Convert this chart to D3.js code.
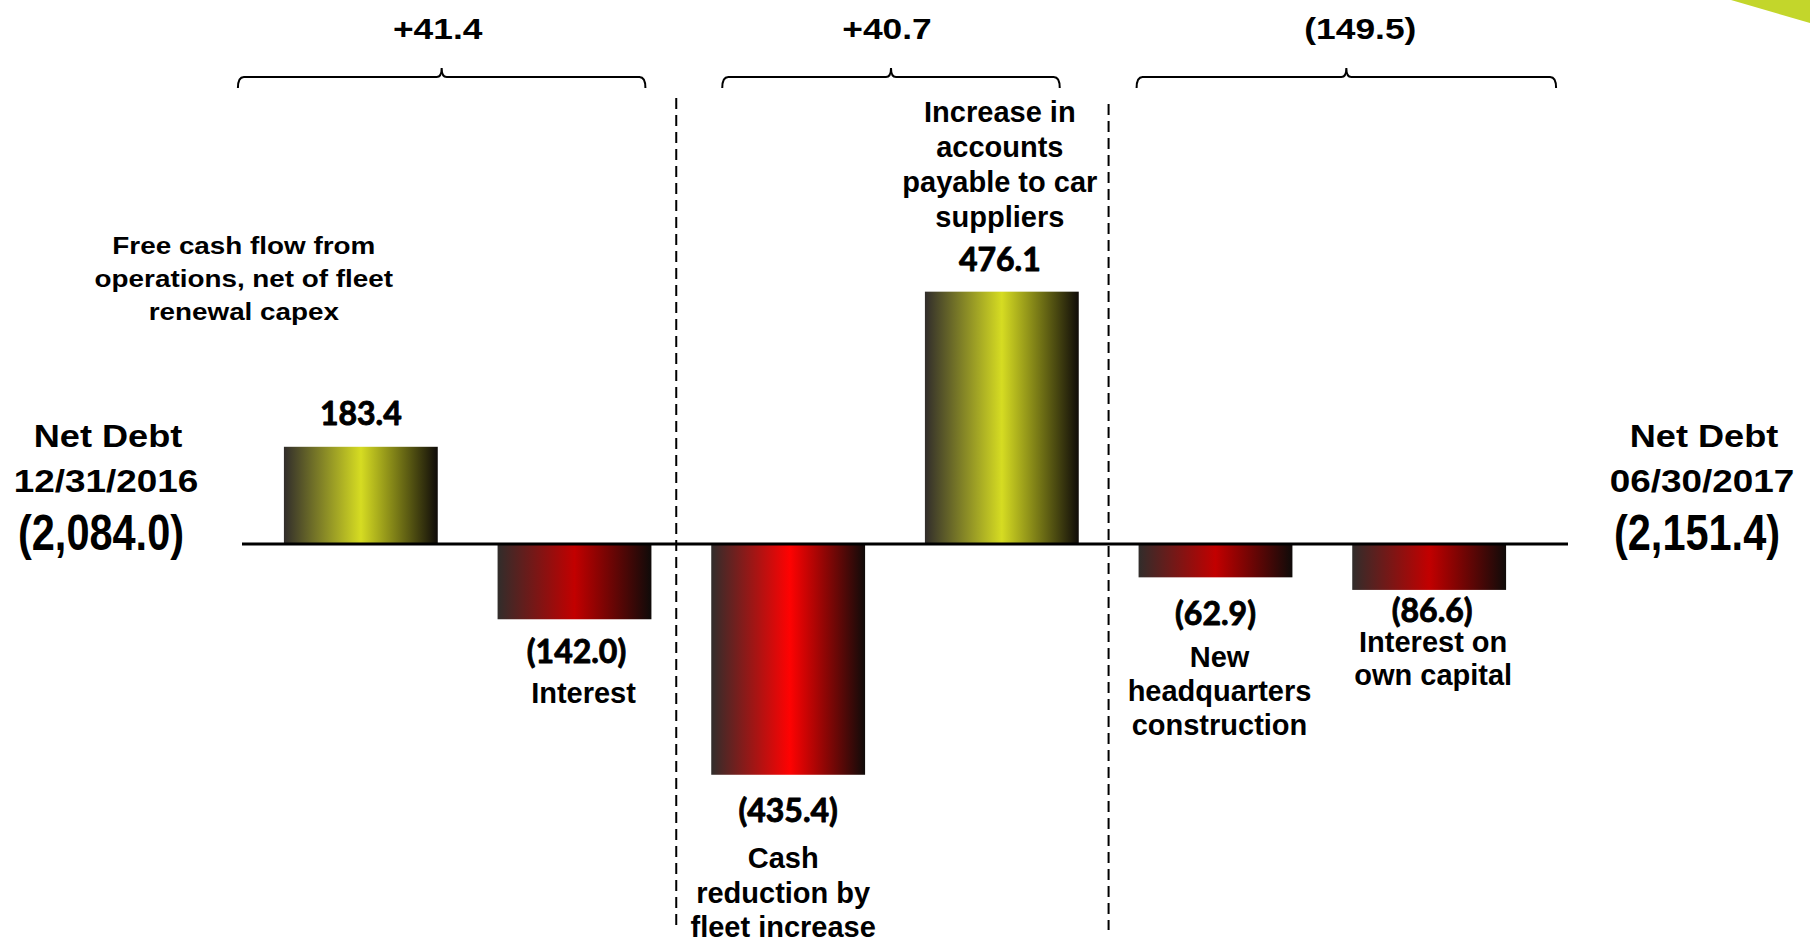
<!DOCTYPE html>
<html>
<head>
<meta charset="utf-8">
<script src="https://cdn.jsdelivr.net/npm/d3@7"></script>
<style>
  html, body { margin: 0; padding: 0; background: #ffffff; }
  svg { display: block; }
</style>
</head>
<body>
<div id="chart"></div>
<script>
// ---------------- DATA ----------------
const categories = [
  ["Free cash flow from", "operations, net of fleet", "renewal capex"],
  ["Interest"],
  ["Cash", "reduction by", "fleet increase"],
  ["Increase in", "accounts", "payable to car", "suppliers"],
  ["New", "headquarters", "construction"],
  ["Interest on", "own capital"]
];
const values = [183.4, -142.0, -435.4, 476.1, -62.9, -86.6];
const groupLabels = ["+41.4", "+40.7", "(149.5)"];
const groupMembers = [[0, 1], [2, 3], [4, 5]];
const startLabel = ["Net Debt", "12/31/2016", "(2,084.0)"];
const endLabel = ["Net Debt", "06/30/2017", "(2,151.4)"];

// ---------------- LAYOUT / STYLE ----------------
const W = 1810, H = 942;
const ARIAL = "'Liberation Sans', Arial, Helvetica, sans-serif";
const CALIBRI = "Lato, 'Open Sans', sans-serif";

const svg = d3.select("#chart").append("svg")
  .attr("width", W).attr("height", H)
  .attr("viewBox", `0 0 ${W} ${H}`);

svg.append("rect").attr("width", W).attr("height", H).attr("fill", "#ffffff");

// corner decoration
svg.append("path")
  .attr("d", "M1731,0 L1810,0 L1810,23 Z")
  .attr("fill", "#c3d62b");

const x = d3.scaleBand().domain(d3.range(values.length))
  .range([254, 1536]).paddingInner(0.28).paddingOuter(0.14);
const y = d3.scaleLinear().domain([-600, 600])
  .range([544 + 0.53 * 600, 544 - 0.53 * 600]);

// gradients
const defs = svg.append("defs");
function grad(id, mid, midPos) {
  const g = defs.append("linearGradient").attr("id", id)
    .attr("x1", "0%").attr("x2", "100%").attr("y1", "0%").attr("y2", "0%");
  g.append("stop").attr("offset", "0%").attr("stop-color", "#312d2b");
  g.append("stop").attr("offset", midPos).attr("stop-color", mid);
  g.append("stop").attr("offset", "100%").attr("stop-color", "#0f0b09");
}
grad("gYellow", "#d6dc22", "50%");
grad("gRed", "#c20000", "50%");
grad("gBright", "#ff0202", "51%");
const tone = ["gYellow", "gRed", "gBright", "gYellow", "gRed", "gRed"];

// text helper
function txt(parent, tx, ty, s, o) {
  const t = parent.append("text")
    .attr("transform", `translate(${tx},${ty}) scale(${o.sx || 1},1)`)
    .attr("text-anchor", "middle")
    .attr("fill", "#000")
    .style("font-family", o.f || ARIAL)
    .style("font-weight", 700)
    .style("font-size", o.size + "px")
    .text(s);
  if (o.stroke) t.attr("stroke", "#000").attr("stroke-width", o.stroke).attr("stroke-linejoin", "round");
  return t;
}

// bars
const bw = x.bandwidth();
svg.append("g").selectAll("rect").data(values).join("rect")
  .attr("x", (d, i) => x(i))
  .attr("y", d => d >= 0 ? y(d) : y(0) + 1)
  .attr("width", bw)
  .attr("height", d => d >= 0 ? y(0) - y(d) : y(d) - y(0) - 1)
  .attr("fill", (d, i) => `url(#${tone[i]})`);

// zero line
svg.append("line")
  .attr("x1", x.range()[0] - 12).attr("x2", x.range()[1] + 32)
  .attr("y1", y(0)).attr("y2", y(0))
  .attr("stroke", "#000").attr("stroke-width", 3);

// dashed separators between groups
const seps = [
  x(groupMembers[1][0]) - 35,
  x(groupMembers[2][0]) - 30
];
const sepTop = [98, 104];
seps.forEach((sx, k) => {
  svg.append("line")
    .attr("x1", sx).attr("x2", sx)
    .attr("y1", sepTop[k]).attr("y2", 930)
    .attr("stroke", "#000").attr("stroke-width", 2)
    .attr("stroke-dasharray", "11,6");
});

// brackets
const bracketAdj = [[-46, -6], [11, -19], [-2, 50]];
const labelShift = [-4, -4, 14];
const by = 77;
groupMembers.forEach((m, k) => {
  const x0 = x(m[0]) + bracketAdj[k][0];
  const x1 = x(m[m.length - 1]) + bw + bracketAdj[k][1];
  const xc = (x0 + x1) / 2;
  const p = `M${x0},${by + 11} Q${x0},${by} ${x0 + 6},${by} L${xc - 5},${by} Q${xc},${by} ${xc},${by - 9} Q${xc},${by} ${xc + 5},${by} L${x1 - 6},${by} Q${x1},${by} ${x1},${by + 11}`;
  svg.append("path").attr("d", p).attr("fill", "none")
    .attr("stroke", "#000").attr("stroke-width", 2);
  txt(svg, xc + labelShift[k], 39, groupLabels[k], { size: 29, sx: 1.22 });
});

// value labels
const fmt = d3.format(",.1f");
const valText = v => v >= 0 ? fmt(v) : "(" + fmt(-v) + ")";
const valDy = [-22, 44, 47, -21, 48, 32];
const valDx = [0, 2, 0, -2, 0, 3];
values.forEach((v, i) => {
  const cx = x(i) + bw / 2 + valDx[i];
  txt(svg, cx, y(v) + valDy[i], valText(v), { size: 32, f: CALIBRI, stroke: 0.9 });
});

// category labels
const catLayout = [
  { dx: -117, base: 254, lh: 33, size: 24, sx: 1.16 },
  { dx: 9, base: 703, lh: 34, size: 29, sx: 1 },
  { dx: -5, base: 868, lh: 34.5, size: 29, sx: 1 },
  { dx: -2, base: 122, lh: 35, size: 29, sx: 1 },
  { dx: 4, base: 667, lh: 34, size: 29, sx: 1 },
  { dx: 4, base: 652, lh: 33, size: 29, sx: 1 }
];
categories.forEach((lines, i) => {
  const L = catLayout[i];
  const cx = x(i) + bw / 2 + L.dx;
  lines.forEach((s, j) => txt(svg, cx, L.base + j * L.lh, s, { size: L.size, sx: L.sx }));
});

// start / end net debt labels
function sideLabel(cx, lines) {
  txt(svg, cx + 2, 447, lines[0], { size: 32, sx: 1.13 });
  txt(svg, cx, 492, lines[1], { size: 31, sx: 1.19 });
  txt(svg, cx - 5, 550, lines[2], { size: 50, sx: 0.83 });
}
sideLabel(106, startLabel);
sideLabel(1702, endLabel);
</script>
</body>
</html>
